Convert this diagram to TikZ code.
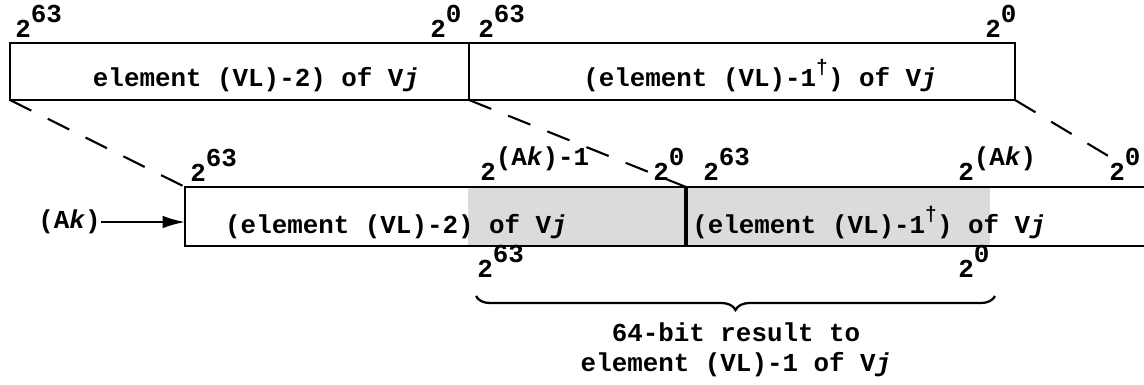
\documentclass[tikz,border=0pt]{standalone}
\usepackage{fontspec}
\setmonofont{Liberation Mono}
\usetikzlibrary{arrows, arrows.meta, positioning, calc, decorations.pathreplacing}

\newcommand{\regfont}{\ttfamily\bfseries\fontsize{18.4}{21.3}\selectfont}
\newcommand{\pw}[1]{2\raisebox{0.55em}{#1}}
\newcommand{\vi}[1]{\textit{#1}}
\newcommand{\dg}{\raisebox{0.5em}{\fontsize{14}{14}\selectfont †}}

\begin{document}
\begin{tikzpicture}[x=0.025cm, y=-0.025cm,
    lbl/.style={font=\regfont, inner sep=0pt},
    regline/.style={line width=1.8pt},
    slant/.style={line width=1.5pt, dash pattern=on 17pt off 13pt},
    shade/.style={fill=black!14, draw=none}]
  \clip (0,0) rectangle (1144,384);
  % upper register pair
  \coordinate (ua) at (10,43);
  \coordinate (usw) at (10,100);
  \coordinate (udiv) at (469,100);
  \coordinate (use) at (1015,100);
  \draw[regline] (ua) rectangle (use);
  \draw[regline] (469,43) -- (udiv);
  \node[lbl, anchor=base] (utxta) at (256,86) {element (VL)-2) of V\vi{j}};
  \node[lbl, anchor=base] (utxtb) at (760,86) {(element (VL)-1\dg) of V\vi{j}};
  \node[lbl, anchor=base west] (ubita) at (15,37) {\pw{63}};
  \node[lbl, anchor=base west] (ubitb) at (430,37) {\pw{0}};
  \node[lbl, anchor=base west] (ubitc) at (478,37) {\pw{63}};
  \node[lbl, anchor=base west] (ubitd) at (985,37) {\pw{0}};
  % lower register pair
  \coordinate (lnw) at (185,187);
  \coordinate (ldiv) at (686,187);
  \coordinate (lne) at (1160,187);
  \coordinate (lin) at (185,222);
  \fill[shade] (468,187) rectangle (990,246);
  \draw[regline] (lne) -- (lnw) -- (185,246) -- (1160,246);
  \draw[line width=2.4pt] (ldiv) -- (686,246);
  \node[lbl, anchor=base] (ltxta) at (396,233) {(element (VL)-2) of V\vi{j}};
  \node[lbl, anchor=base] (ltxtb) at (869,233) {(element (VL)-1\dg) of V\vi{j}};
  \node[lbl, anchor=base west] (lbita) at (190,181) {\pw{63}};
  \node[lbl, anchor=base west] (lbitb) at (480,180) {\pw{(A\vi{k})-1}};
  \node[lbl, anchor=base west] (lbitc) at (653,180) {\pw{0}};
  \node[lbl, anchor=base west] (lbitd) at (703,180) {\pw{63}};
  \node[lbl, anchor=base west] (lbite) at (958,180) {\pw{(A\vi{k})}};
  \node[lbl, anchor=base west] (lbitf) at (1109,180) {\pw{0}};
  \node[lbl, anchor=base west] (rbita) at (477,277) {\pw{63}};
  \node[lbl, anchor=base west] (rbitb) at (958,277) {\pw{0}};
  % address input
  \node[lbl, anchor=east] (ak) at (101,222) {(A\vi{k})};
  \draw[-{Latex[length=16pt, width=9pt]}, line width=1.4pt] (ak) -- (lin);
  % shift lines
  \draw[slant] (usw) -- (lnw);
  \draw[slant] (udiv) -- (ldiv);
  \draw[slant, shorten >=1.4cm] (use) -- (lne);
  % result
  \coordinate (brr) at (995,296);
  \coordinate (brl) at (476,296);
  \draw[line width=1.6pt, decorate, decoration={brace, amplitude=0.35cm}] (brr) -- (brl);
  \node[lbl, align=center] (result) at (736,350) {64-bit result to\\element (VL)-1 of V\vi{j}};
\end{tikzpicture}
\end{document}
